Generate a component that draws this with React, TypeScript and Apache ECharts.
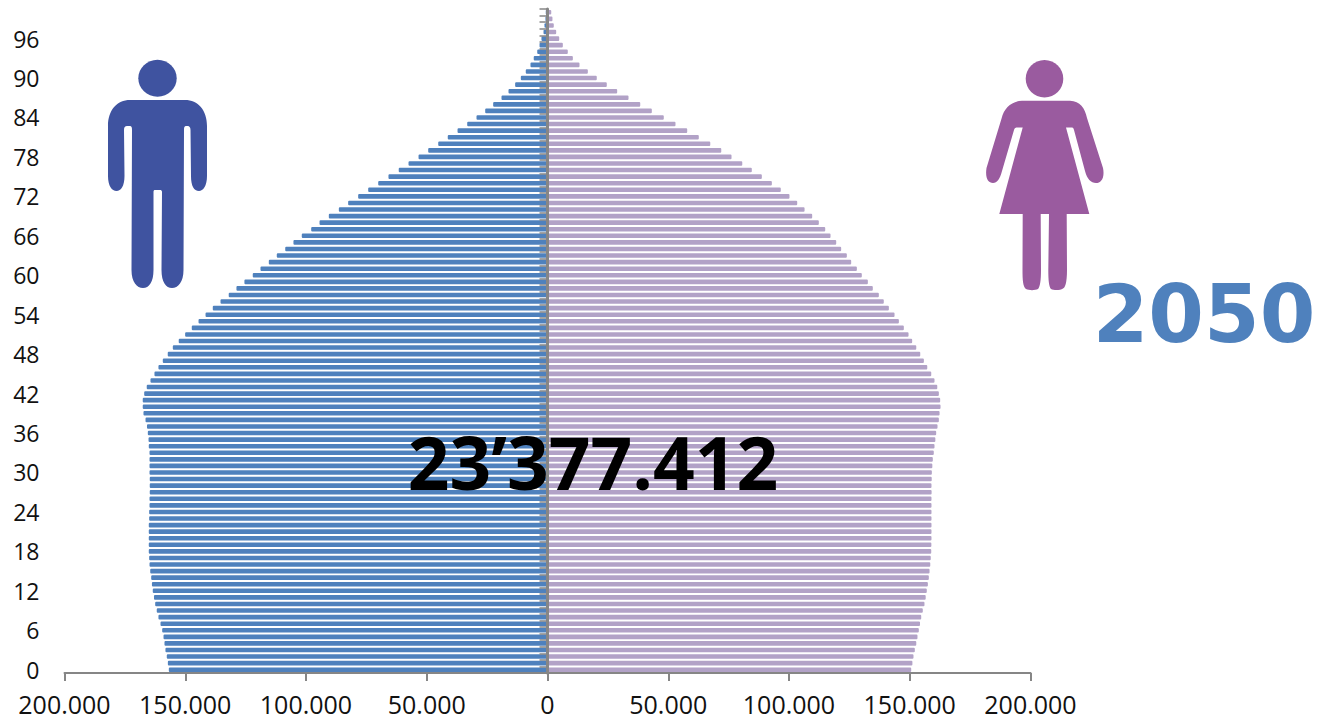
import React, { useEffect, useRef } from "react";
import * as echarts from "echarts";

const ages: string[] = Array.from({ length: 101 }, (_, i) => String(i));

// index = age 0..100
const male: number[] = [
  156800, 157200, 157650, 158200, 158600, 159000, 159550, 160250, 161100, 161800,
  162450, 162950, 163450, 163800, 164100, 164500, 164800, 164950, 165100, 165100,
  165100, 165100, 165100, 164950, 164950, 164800, 164800, 164700, 164700, 164700,
  164800, 164800, 164800, 164800, 165100, 165200, 165500, 165850, 166450, 167300,
  167600, 167600, 167000, 165950, 164400, 162750, 161100, 159300, 157250, 155150,
  152700, 150050, 147300, 144500, 141600, 138600, 135400, 132000, 128800, 125500,
  122050, 118850, 115400, 112100, 108600, 105200, 101750, 97850, 94400, 90550,
  86400, 82550, 78400, 74250, 70100, 65850, 61600, 57550, 53400, 49400,
  45250, 41300, 37250, 33250, 29400, 25800, 22500, 19050, 16150, 13400,
  11050, 9000, 7050, 5700, 4250, 3300, 2500, 1650, 1250, 850,
  600,
];

const female: number[] = [
  150600, 151100, 151550, 152100, 152700, 153200, 153750, 154250, 154750, 155400,
  156100, 156600, 157050, 157500, 157900, 158200, 158500, 158700, 158900, 158950,
  159000, 159000, 159000, 159000, 159000, 159000, 159000, 159050, 159000, 159100,
  159150, 159350, 159550, 159950, 160250, 160600, 160950, 161500, 162050, 162350,
  162750, 162600, 162050, 161400, 160250, 158900, 157250, 155850, 154350, 152700,
  151000, 149500, 147550, 145500, 143700, 141350, 139250, 137200, 134700, 132650,
  130150, 128100, 125750, 123950, 121600, 119550, 117200, 115000, 112350, 109600,
  106450, 103400, 100200, 96600, 92900, 88750, 84600, 80650, 76200, 71950,
  67400, 62650, 57850, 53000, 48150, 43200, 38400, 33550, 28850, 24550,
  20400, 16700, 13250, 10500, 8400, 6350, 4850, 3600, 2600, 2050,
  1550,
];

const totalLabel = "23’377.412";
const yearLabel = "2050";

const MAN_D =
  "M130 100 L185 100 C198 100 207 110 207 126 L207 176 C207 186 203 191 199 191 C194 191 191 186 191 176 L190.5 130 C190.5 127 189 126 188 126 L186 126 C184.5 126 184 127 184 130 L183.5 270 C183.5 282 178 288 172 288 C166 288 161.5 282 161.5 270 L162 192 C162 190.5 161 190 160 190 L155 190 C154 190 153.5 190.5 153.5 192 L153.5 270 C153.5 282 149 288 143 288 C137 288 131.5 282 131.5 270 L132 130 C132 127 131.5 126 130 126 L127 126 C125 126 124 127 124 130 L124.5 176 C124.5 186 121 191 116.5 191 C112 191 108 186 108 176 L108 126 C108 110 117 100 130 100 Z";
const WOMAN_D =
  "M1022 100.7 L1070 100.7 C1080 101 1085 108 1087 118 L1103 168 C1105 178 1101 183 1096 183 C1091 183 1087 179 1085 171 L1074 130 C1073.5 128 1073 127.5 1071 127.5 L1066 127.5 L1089.3 214 L1066.7 214 L1067 270 C1067 283 1065 288 1063 288.5 C1060 290.5 1054 290.5 1051 289 C1049 287 1048.3 280 1048.3 270 L1049 214 L1040.7 214 L1041 270 C1041 280 1040 287 1038 289 C1035 290.5 1029 290.5 1026 289 C1023 287 1022.5 280 1022.5 270 L1022.7 214 L999.3 214 L1022.7 127.5 L1018 127.5 C1015.5 127.5 1014.5 128 1014 130 L1002 171 C1000 179 997 183 993 183 C988 183 985 178 986.5 168 L1001.7 118 C1004 108 1012 101 1022 100.7 Z";

echarts.graphic.registerShape("manBody", echarts.graphic.extendPath(MAN_D, {}));
echarts.graphic.registerShape("womanBody", echarts.graphic.extendPath(WOMAN_D, {}));

const fmt = (v: number): string => {
  const a = Math.abs(v);
  if (a === 0) return "0";
  return `${Math.floor(a / 1000)}.000`;
};

const FONT = "'Open Sans', sans-serif";
const AXIS = "#868686";

export default function App() {
  const ref = useRef<HTMLDivElement>(null);
  useEffect(() => {
    const chart = echarts.init(ref.current!, undefined, { renderer: "svg" });
    chart.setOption({
      animation: false,
      backgroundColor: "#fff",
      grid: { left: 64.5, right: 289.5, top: 9, bottom: 46, containLabel: false },
      xAxis: {
        type: "value",
        min: -200000,
        max: 200000,
        interval: 50000,
        splitLine: { show: false },
        axisLine: { show: true, onZero: false, lineStyle: { color: AXIS, width: 2 } },
        axisTick: { show: true, length: 8, lineStyle: { color: AXIS, width: 2 } },
        axisLabel: {
          formatter: fmt,
          fontFamily: FONT,
          fontSize: 25,
          color: "#111",
          margin: 18,
          hideOverlap: false,
        },
      },
      yAxis: [
        {
          type: "category",
          data: ages,
          z: 10,
          axisLine: { show: true, onZero: true, lineStyle: { color: AXIS, width: 3 } },
          axisTick: { show: true, interval: 0, length: 8, lineStyle: { color: AXIS, width: 1.5 } },
          axisLabel: { show: false },
          splitLine: { show: false },
        },
        {
          type: "category",
          data: ages,
          position: "left",
          axisLine: { show: false, onZero: false },
          axisTick: { show: false },
          splitLine: { show: false },
          axisLabel: {
            show: true,
            interval: 5,
            fontFamily: FONT,
            fontSize: 23,
            color: "#111",
            margin: 25,
          },
        },
      ],
      series: [
        {
          name: "Männer",
          type: "bar",
          yAxisIndex: 0,
          data: male.map((v) => -v),
          barWidth: 4.6,
          barGap: "-100%",
          itemStyle: { color: "#4F81BD", borderColor: "#4F81BD", borderWidth: 2, borderJoin: "round" },
        },
        {
          name: "Frauen",
          type: "bar",
          yAxisIndex: 0,
          data: female,
          barWidth: 4.6,
          barGap: "-100%",
          itemStyle: { color: "#B2A2C7", borderColor: "#B2A2C7", borderWidth: 2, borderJoin: "round" },
        },
      ],
      graphic: [
        { type: "ellipse", shape: { cx: 157.5, cy: 78.3, rx: 19.2, ry: 18.5 }, style: { fill: "#3F53A0" } },
        { type: "manBody", x: 0, y: 0, style: { fill: "#3F53A0" } },
        { type: "ellipse", shape: { cx: 1044.5, cy: 78.7, rx: 18.8, ry: 18.7 }, style: { fill: "#9A5B9F" } },
        { type: "womanBody", x: 0, y: 0, style: { fill: "#9A5B9F" } },
        {
          type: "text",
          z: 20,
          x: 593,
          y: 461,
          style: {
            text: totalLabel,
            fontFamily: FONT,
            fontWeight: 700,
            fontSize: 73,
            fill: "#000",
            align: "center",
            verticalAlign: "middle",
          },
        },
        {
          type: "text",
          z: 20,
          x: 1204,
          y: 314,
          style: {
            text: yearLabel,
            fontFamily: "'DejaVu Sans', sans-serif",
            fontWeight: 700,
            fontSize: 80,
            fill: "#4F81BD",
            align: "center",
            verticalAlign: "middle",
          },
        },
      ],
    });
    return () => chart.dispose();
  }, []);
  return <div ref={ref} style={{ position: "absolute", left: 0, top: 0, width: 1320, height: 719 }} />;
}
